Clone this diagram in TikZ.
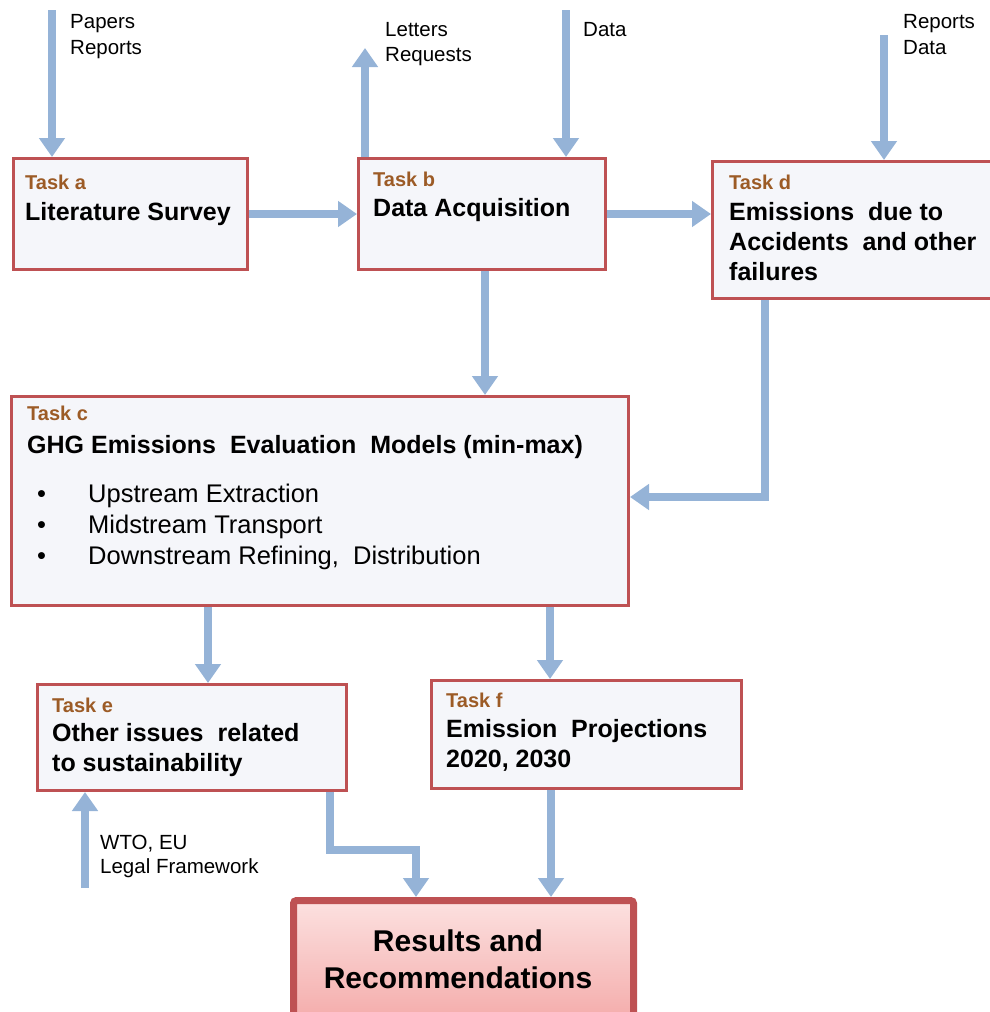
\documentclass[tikz,border=0pt]{standalone}
\usepackage{fontspec}
\setmainfont{Liberation Sans}
\usetikzlibrary{arrows.meta,calc}
\definecolor{arrowblue}{HTML}{95B3D7}
\definecolor{boxred}{HTML}{BE5153}
\definecolor{boxfill}{HTML}{F5F6FA}
\definecolor{taskcol}{HTML}{9C5B26}
\definecolor{respinkA}{HTML}{FCE1E0}
\definecolor{respinkB}{HTML}{F4ABAA}
\begin{document}
\begin{tikzpicture}[x=1pt,y=-1pt,
  taskbox/.style={draw=boxred, line width=3pt, fill=boxfill, anchor=north west, inner sep=0pt},
  resbox/.style={draw=boxred, line width=7pt, rounded corners=3pt, top color=respinkA, bottom color=respinkB, anchor=north west, inner sep=0pt},
  arr/.style={draw=arrowblue, line width=8pt, -{Triangle[width=25pt,length=19pt]}},
  lab/.style={font=\fontsize{20.5}{24}\selectfont, anchor=base west, inner sep=0pt},
  tasklab/.style={font=\bfseries\fontsize{20}{24}\selectfont, text=taskcol, anchor=base west, inner sep=0pt},
  head/.style={font=\bfseries\fontsize{25}{30}\selectfont, anchor=base west, inner sep=0pt},
  item/.style={font=\fontsize{25.5}{30}\selectfont, anchor=base west, inner sep=0pt},
  reshead/.style={font=\bfseries\fontsize{30}{34}\selectfont, anchor=base, inner sep=0pt}]
\useasboundingbox (0,0) rectangle (990,1012);

% boxes
\node[taskbox, minimum width=234pt, minimum height=111pt] (a) at (12,157) {};
\node[taskbox, minimum width=247pt, minimum height=111pt] (b) at (357,157) {};
\node[taskbox, minimum width=285pt, minimum height=137pt] (d) at (711,160) {};
\node[taskbox, minimum width=617pt, minimum height=209pt] (c) at (10,395) {};
\node[taskbox, minimum width=309pt, minimum height=106pt] (e) at (36,683) {};
\node[taskbox, minimum width=310pt, minimum height=108pt] (f) at (430,679) {};
\node[resbox, minimum width=340pt, minimum height=122pt] (r) at (290,897) {};

% texts in boxes
\node[tasklab] (ta) at (25,189) {Task a};
\node[head] (ta1) at (25,220) {Literature Survey};
\node[tasklab] (tb) at (373,186) {Task b};
\node[head] (tb1) at (373,216) {Data Acquisition};
\node[tasklab] (td) at (729,189) {Task d};
\node[head] (td1) at (729,220) {Emissions\ \ due to};
\node[head] (td2) at (729,250) {Accidents\ \ and other};
\node[head] (td3) at (729,280) {failures};
\node[tasklab] (tc) at (27,420) {Task c};
\node[head] (tc1) at (27,453) {GHG Emissions\ \ Evaluation\ \ Models (min-max)};
\node[item] (b1) at (37,502) {•};
\node[item] (c1) at (88,502) {Upstream Extraction};
\node[item] (b2) at (37,533) {•};
\node[item] (c2) at (88,533) {Midstream Transport};
\node[item] (b3) at (37,564) {•};
\node[item] (c3) at (88,564) {Downstream Refining,\ \ Distribution};
\node[tasklab] (te) at (52,712) {Task e};
\node[head] (te1) at (52,741) {Other issues\ \ related};
\node[head] (te2) at (52,771) {to sustainability};
\node[tasklab] (tf) at (446,707) {Task f};
\node[head] (tf1) at (446,737) {Emission\ \ Projections};
\node[head] (tf2) at (446,767) {2020, 2030};
\node[reshead] (r1) at (458,951) {Results and};
\node[reshead] (r2) at (458,988) {Recommendations};

% outside labels
\node[lab] (l1) at (70,28) {Papers};
\node[lab] (l2) at (70,54) {Reports};
\node[lab] (l3) at (385,36) {Letters};
\node[lab] (l4) at (385,61) {Requests};
\node[lab] (l5) at (583,36) {Data};
\node[lab] (l6) at (903,28) {Reports};
\node[lab] (l7) at (903,54) {Data};
\node[lab] (l8) at (100,849) {WTO, EU};
\node[lab] (l9) at (100,873) {Legal Framework};

% connector points
\coordinate (pa) at (52,10);
\coordinate (lr) at (365,48);
\coordinate (dt) at (566,10);
\coordinate (rd) at (884,35);
\coordinate (bc) at (485,0);
\coordinate (dc) at (765,497);
\coordinate (ce) at (208,0);
\coordinate (cf) at (550,0);
\coordinate (wto) at (85,888);
\coordinate (er1) at (330,850);
\coordinate (er2) at (416,850);
\coordinate (fr) at (551,0);

% connectors
\draw[arr] (pa) -- (pa |- a.north);
\draw[arr] (lr |- b.north) -- (lr);
\draw[arr] (dt) -- (dt |- b.north);
\draw[arr] (rd) -- (rd |- d.north);
\draw[arr] (a.east) -- (b.west);
\draw[arr] (b.east) -- (b.east -| d.west);
\draw[arr] (bc |- b.south) -- (bc |- c.north);
\draw[arr] (dc |- d.south) -- (dc) -- (dc -| c.east);
\draw[arr] (ce |- c.south) -- (ce |- e.north);
\draw[arr] (cf |- c.south) -- (cf |- f.north);
\draw[arr] (wto) -- (wto |- e.south);
\draw[arr] (er1 |- e.south) -- (er1) -- (er2) -- (er2 |- r.north);
\draw[arr] (fr |- f.south) -- (fr |- r.north);
\end{tikzpicture}
\end{document}
